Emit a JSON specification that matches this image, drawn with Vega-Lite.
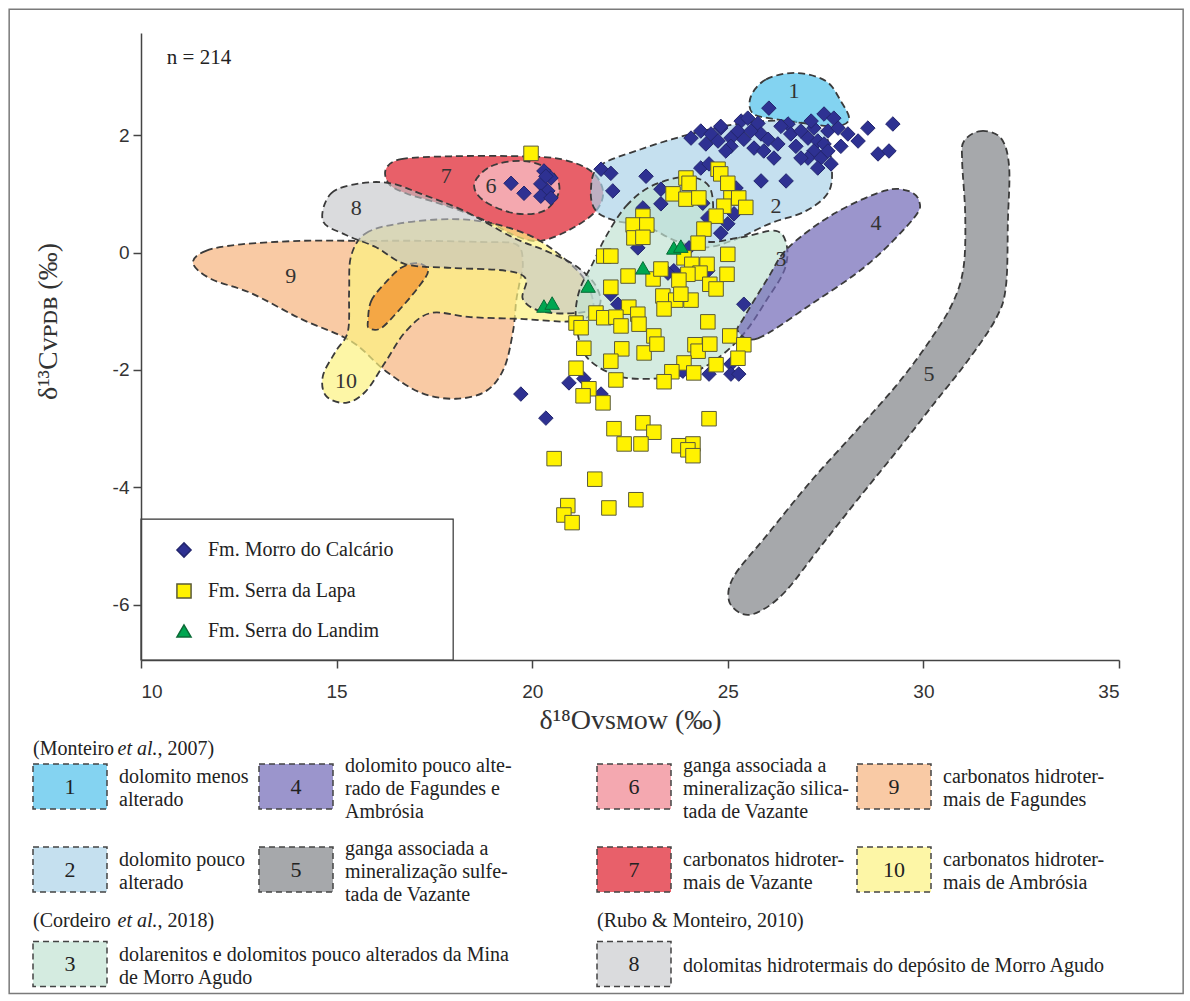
{
"$schema":"https://vega.github.io/schema/vega-lite/v6.json",
"padding":8,
"bounds":"flush",
"spacing":0,
"background":"white",
"config":{"view":{"stroke":null},"font":"Liberation Serif"},
"datasets":{
"fields":[
{"f":"1","i":0,"x":25.59,"y":2.66},{"f":"1","i":1,"x":25.98,"y":2.95},{"f":"1","i":2,"x":26.74,"y":3.06},{"f":"1","i":3,"x":27.51,"y":2.92},{"f":"1","i":4,"x":27.89,"y":2.58},{"f":"1","i":5,"x":28.10,"y":2.27},{"f":"1","i":6,"x":27.77,"y":2.15},{"f":"1","i":7,"x":27.00,"y":2.20},{"f":"1","i":8,"x":26.23,"y":2.27},{"f":"1","i":9,"x":25.64,"y":2.37},
{"f":"2","i":0,"x":21.50,"y":1.05},{"f":"2","i":1,"x":21.71,"y":1.47},{"f":"2","i":2,"x":22.78,"y":1.76},{"f":"2","i":3,"x":24.06,"y":2.02},{"f":"2","i":4,"x":25.34,"y":2.20},{"f":"2","i":5,"x":26.62,"y":2.24},{"f":"2","i":6,"x":27.43,"y":2.06},{"f":"2","i":7,"x":27.64,"y":1.56},{"f":"2","i":8,"x":27.59,"y":1.05},{"f":"2","i":9,"x":27.00,"y":0.71},{"f":"2","i":10,"x":26.10,"y":0.50},{"f":"2","i":11,"x":25.21,"y":0.23},{"f":"2","i":12,"x":24.44,"y":0.09},{"f":"2","i":13,"x":23.67,"y":0.20},{"f":"2","i":14,"x":22.91,"y":0.45},{"f":"2","i":15,"x":22.14,"y":0.54},{"f":"2","i":16,"x":21.63,"y":0.71},
{"f":"3","i":0,"x":21.89,"y":0.28},{"f":"3","i":1,"x":22.40,"y":0.79},{"f":"3","i":2,"x":23.04,"y":1.13},{"f":"3","i":3,"x":23.94,"y":1.29},{"f":"3","i":4,"x":24.52,"y":1.13},{"f":"3","i":5,"x":24.62,"y":0.62},{"f":"3","i":6,"x":24.44,"y":0.20},{"f":"3","i":7,"x":25.34,"y":0.26},{"f":"3","i":8,"x":26.23,"y":0.37},{"f":"3","i":9,"x":26.51,"y":0.11},{"f":"3","i":10,"x":26.44,"y":-0.31},{"f":"3","i":11,"x":25.98,"y":-0.82},{"f":"3","i":12,"x":25.46,"y":-1.34},{"f":"3","i":13,"x":24.82,"y":-1.76},{"f":"3","i":14,"x":24.06,"y":-2.05},{"f":"3","i":15,"x":23.04,"y":-2.15},{"f":"3","i":16,"x":22.14,"y":-2.09},{"f":"3","i":17,"x":21.37,"y":-1.76},{"f":"3","i":18,"x":21.12,"y":-1.17},{"f":"3","i":19,"x":21.20,"y":-0.66},{"f":"3","i":20,"x":21.55,"y":-0.18},
{"f":"4","i":0,"x":25.26,"y":-1.34},{"f":"4","i":1,"x":25.77,"y":-1.46},{"f":"4","i":2,"x":27.13,"y":-0.88},{"f":"4","i":3,"x":28.58,"y":-0.20},{"f":"4","i":4,"x":29.76,"y":0.59},{"f":"4","i":5,"x":29.89,"y":0.88},{"f":"4","i":6,"x":29.61,"y":1.05},{"f":"4","i":7,"x":28.99,"y":1.05},{"f":"4","i":8,"x":27.71,"y":0.66},{"f":"4","i":9,"x":26.54,"y":0.08},{"f":"4","i":10,"x":26.03,"y":-0.43},{"f":"4","i":11,"x":25.41,"y":-1.11},
{"f":"5","i":0,"x":31.04,"y":1.90},{"f":"5","i":1,"x":31.47,"y":2.07},{"f":"5","i":2,"x":31.98,"y":1.95},{"f":"5","i":3,"x":32.19,"y":1.47},{"f":"5","i":4,"x":32.16,"y":0.54},{"f":"5","i":5,"x":32.11,"y":-0.57},{"f":"5","i":6,"x":31.85,"y":-1.13},{"f":"5","i":7,"x":31.09,"y":-1.88},{"f":"5","i":8,"x":30.32,"y":-2.53},{"f":"5","i":9,"x":29.43,"y":-3.29},{"f":"5","i":10,"x":28.40,"y":-4.14},{"f":"5","i":11,"x":27.38,"y":-5.00},{"f":"5","i":12,"x":26.49,"y":-5.76},{"f":"5","i":13,"x":25.85,"y":-6.10},{"f":"5","i":14,"x":25.39,"y":-6.16},{"f":"5","i":15,"x":25.03,"y":-5.93},{"f":"5","i":16,"x":25.16,"y":-5.51},{"f":"5","i":17,"x":25.98,"y":-4.83},{"f":"5","i":18,"x":27.13,"y":-3.89},{"f":"5","i":19,"x":28.28,"y":-3.04},{"f":"5","i":20,"x":29.30,"y":-2.27},{"f":"5","i":21,"x":30.07,"y":-1.59},{"f":"5","i":22,"x":30.71,"y":-0.91},{"f":"5","i":23,"x":31.02,"y":-0.28},{"f":"5","i":24,"x":31.07,"y":0.62},{"f":"5","i":25,"x":30.99,"y":1.56},
{"f":"6","i":0,"x":18.52,"y":1.17},{"f":"6","i":1,"x":18.95,"y":1.47},{"f":"6","i":2,"x":19.79,"y":1.56},{"f":"6","i":3,"x":20.49,"y":1.39},{"f":"6","i":4,"x":20.69,"y":1.05},{"f":"6","i":5,"x":20.30,"y":0.71},{"f":"6","i":6,"x":19.54,"y":0.67},{"f":"6","i":7,"x":18.77,"y":0.88},
{"f":"7","i":0,"x":16.26,"y":1.42},{"f":"7","i":1,"x":16.65,"y":1.59},{"f":"7","i":2,"x":17.92,"y":1.64},{"f":"7","i":3,"x":19.71,"y":1.64},{"f":"7","i":4,"x":20.74,"y":1.59},{"f":"7","i":5,"x":21.50,"y":1.39},{"f":"7","i":6,"x":21.81,"y":1.05},{"f":"7","i":7,"x":21.63,"y":0.71},{"f":"7","i":8,"x":20.99,"y":0.40},{"f":"7","i":9,"x":20.22,"y":0.20},{"f":"7","i":10,"x":19.59,"y":0.28},{"f":"7","i":11,"x":18.95,"y":0.50},{"f":"7","i":12,"x":18.18,"y":0.71},{"f":"7","i":13,"x":17.41,"y":0.88},{"f":"7","i":14,"x":16.77,"y":1.01},{"f":"7","i":15,"x":16.34,"y":1.17},
{"f":"8","i":0,"x":14.65,"y":0.54},{"f":"8","i":1,"x":14.86,"y":1.01},{"f":"8","i":2,"x":15.62,"y":1.18},{"f":"8","i":3,"x":16.39,"y":1.18},{"f":"8","i":4,"x":17.16,"y":1.00},{"f":"8","i":5,"x":18.26,"y":0.71},{"f":"8","i":6,"x":19.53,"y":0.25},{"f":"8","i":7,"x":20.35,"y":0.03},{"f":"8","i":8,"x":21.12,"y":-0.23},{"f":"8","i":9,"x":21.63,"y":-0.57},{"f":"8","i":10,"x":21.71,"y":-0.91},{"f":"8","i":11,"x":21.12,"y":-1.03},{"f":"8","i":12,"x":20.22,"y":-1.00},{"f":"8","i":13,"x":19.76,"y":-0.79},{"f":"8","i":14,"x":19.84,"y":-0.45},{"f":"8","i":15,"x":19.33,"y":-0.31},{"f":"8","i":16,"x":17.92,"y":-0.26},{"f":"8","i":17,"x":16.77,"y":-0.20},{"f":"8","i":18,"x":16.01,"y":0.09},{"f":"8","i":19,"x":15.24,"y":0.30},
{"f":"9","i":0,"x":11.33,"y":-0.18},{"f":"9","i":1,"x":11.66,"y":0.03},{"f":"9","i":2,"x":12.56,"y":0.14},{"f":"9","i":3,"x":14.09,"y":0.20},{"f":"9","i":4,"x":15.62,"y":0.20},{"f":"9","i":5,"x":17.16,"y":0.20},{"f":"9","i":6,"x":18.69,"y":0.18},{"f":"9","i":7,"x":19.59,"y":0.14},{"f":"9","i":8,"x":19.76,"y":-0.18},{"f":"9","i":9,"x":19.66,"y":-0.57},{"f":"9","i":10,"x":19.59,"y":-0.83},{"f":"9","i":11,"x":19.51,"y":-1.34},{"f":"9","i":12,"x":19.28,"y":-1.97},{"f":"9","i":13,"x":18.82,"y":-2.36},{"f":"9","i":14,"x":18.05,"y":-2.49},{"f":"9","i":15,"x":17.16,"y":-2.39},{"f":"9","i":16,"x":16.26,"y":-2.02},{"f":"9","i":17,"x":15.37,"y":-1.51},{"f":"9","i":18,"x":14.09,"y":-1.13},{"f":"9","i":19,"x":12.81,"y":-0.69},{"f":"9","i":20,"x":11.79,"y":-0.45},
{"f":"10","i":0,"x":15.37,"y":-0.06},{"f":"10","i":1,"x":15.75,"y":0.33},{"f":"10","i":2,"x":16.65,"y":0.50},{"f":"10","i":3,"x":17.92,"y":0.57},{"f":"10","i":4,"x":18.95,"y":0.50},{"f":"10","i":5,"x":19.97,"y":0.28},{"f":"10","i":6,"x":20.74,"y":-0.06},{"f":"10","i":7,"x":21.37,"y":-0.49},{"f":"10","i":8,"x":21.55,"y":-1.00},{"f":"10","i":9,"x":20.99,"y":-1.17},{"f":"10","i":10,"x":19.71,"y":-1.13},{"f":"10","i":11,"x":18.43,"y":-1.10},{"f":"10","i":12,"x":17.41,"y":-1.03},{"f":"10","i":13,"x":16.77,"y":-1.34},{"f":"10","i":14,"x":16.26,"y":-1.85},{"f":"10","i":15,"x":15.75,"y":-2.36},{"f":"10","i":16,"x":15.24,"y":-2.56},{"f":"10","i":17,"x":14.73,"y":-2.44},{"f":"10","i":18,"x":14.65,"y":-2.10},{"f":"10","i":19,"x":14.98,"y":-1.68},{"f":"10","i":20,"x":15.29,"y":-1.34},{"f":"10","i":21,"x":15.32,"y":-0.66},
{"f":"9b","i":0,"x":15.80,"y":-1.17},{"f":"9b","i":1,"x":15.88,"y":-0.83},{"f":"9b","i":2,"x":16.21,"y":-0.54},{"f":"9b","i":3,"x":16.65,"y":-0.26},{"f":"9b","i":4,"x":17.08,"y":-0.18},{"f":"9b","i":5,"x":17.34,"y":-0.31},{"f":"9b","i":6,"x":17.08,"y":-0.60},{"f":"9b","i":7,"x":16.57,"y":-1.00},{"f":"9b","i":8,"x":16.13,"y":-1.29},{"f":"9b","i":9,"x":15.83,"y":-1.29}
],
"labels":[
{"t":"1","x":26.69,"y":2.75},{"t":"2","x":26.23,"y":0.79},{"t":"3","x":26.36,"y":-0.11},{"t":"4","x":28.79,"y":0.50},{"t":"5","x":30.14,"y":-2.06},{"t":"6","x":18.95,"y":1.13},{"t":"7","x":17.80,"y":1.30},{"t":"8","x":15.50,"y":0.76},{"t":"9","x":13.83,"y":-0.40},{"t":"10","x":15.24,"y":-2.19},{"t":"n = 214","x":10.66,"y":3.31}
],
"pts":[
{"fm":"Fm. Morro do Calcário","x":26.05,"y":2.46},{"fm":"Fm. Morro do Calcário","x":24.06,"y":1.95},{"fm":"Fm. Morro do Calcário","x":24.31,"y":2.07},{"fm":"Fm. Morro do Calcário","x":24.57,"y":2.02},{"fm":"Fm. Morro do Calcário","x":24.82,"y":2.12},{"fm":"Fm. Morro do Calcário","x":25.08,"y":1.95},{"fm":"Fm. Morro do Calcário","x":25.34,"y":2.24},{"fm":"Fm. Morro do Calcário","x":25.26,"y":2.07},{"fm":"Fm. Morro do Calcário","x":25.51,"y":2.29},{"fm":"Fm. Morro do Calcário","x":25.77,"y":2.20},{"fm":"Fm. Morro do Calcário","x":25.85,"y":2.02},{"fm":"Fm. Morro do Calcário","x":24.75,"y":1.90},{"fm":"Fm. Morro do Calcário","x":25.08,"y":1.81},{"fm":"Fm. Morro do Calcário","x":25.41,"y":1.93},{"fm":"Fm. Morro do Calcário","x":26.03,"y":1.93},{"fm":"Fm. Morro do Calcário","x":26.28,"y":1.85},{"fm":"Fm. Morro do Calcário","x":25.67,"y":1.78},{"fm":"Fm. Morro do Calcário","x":25.92,"y":1.73},{"fm":"Fm. Morro do Calcário","x":26.18,"y":1.61},{"fm":"Fm. Morro do Calcário","x":26.54,"y":2.19},{"fm":"Fm. Morro do Calcário","x":26.61,"y":2.02},{"fm":"Fm. Morro do Calcário","x":26.87,"y":2.07},{"fm":"Fm. Morro do Calcário","x":27.05,"y":1.95},{"fm":"Fm. Morro do Calcário","x":27.20,"y":2.12},{"fm":"Fm. Morro do Calcário","x":27.46,"y":2.36},{"fm":"Fm. Morro do Calcário","x":27.71,"y":2.29},{"fm":"Fm. Morro do Calcário","x":27.56,"y":2.07},{"fm":"Fm. Morro do Calcário","x":27.82,"y":2.12},{"fm":"Fm. Morro do Calcário","x":27.30,"y":1.90},{"fm":"Fm. Morro do Calcário","x":27.46,"y":1.85},{"fm":"Fm. Morro do Calcário","x":27.20,"y":1.73},{"fm":"Fm. Morro do Calcário","x":27.05,"y":1.61},{"fm":"Fm. Morro do Calcário","x":27.38,"y":1.61},{"fm":"Fm. Morro do Calcário","x":27.56,"y":1.73},{"fm":"Fm. Morro do Calcário","x":27.30,"y":1.44},{"fm":"Fm. Morro do Calcário","x":28.07,"y":2.02},{"fm":"Fm. Morro do Calcário","x":28.33,"y":1.90},{"fm":"Fm. Morro do Calcário","x":28.58,"y":2.12},{"fm":"Fm. Morro do Calcário","x":28.84,"y":1.68},{"fm":"Fm. Morro do Calcário","x":29.22,"y":2.19},{"fm":"Fm. Morro do Calcário","x":29.12,"y":1.73},{"fm":"Fm. Morro do Calcário","x":26.87,"y":1.61},{"fm":"Fm. Morro do Calcário","x":24.82,"y":2.15},{"fm":"Fm. Morro do Calcário","x":24.44,"y":1.85},{"fm":"Fm. Morro do Calcário","x":25.59,"y":2.07},{"fm":"Fm. Morro do Calcário","x":26.74,"y":1.81},{"fm":"Fm. Morro do Calcário","x":27.13,"y":2.24},{"fm":"Fm. Morro do Calcário","x":27.89,"y":1.81},{"fm":"Fm. Morro do Calcário","x":27.64,"y":1.51},{"fm":"Fm. Morro do Calcário","x":26.36,"y":2.15},{"fm":"Fm. Morro do Calcário","x":24.95,"y":1.73},
{"fm":"Fm. Morro do Calcário","x":21.76,"y":1.42},{"fm":"Fm. Morro do Calcário","x":22.01,"y":1.35},{"fm":"Fm. Morro do Calcário","x":22.06,"y":1.05},{"fm":"Fm. Morro do Calcário","x":22.91,"y":1.30},{"fm":"Fm. Morro do Calcário","x":24.31,"y":1.44},{"fm":"Fm. Morro do Calcário","x":24.52,"y":1.51},{"fm":"Fm. Morro do Calcário","x":25.85,"y":1.22},{"fm":"Fm. Morro do Calcário","x":26.49,"y":1.22},{"fm":"Fm. Morro do Calcário","x":23.29,"y":1.08},{"fm":"Fm. Morro do Calcário","x":23.29,"y":0.83},{"fm":"Fm. Morro do Calcário","x":22.83,"y":0.76},{"fm":"Fm. Morro do Calcário","x":24.36,"y":0.84},{"fm":"Fm. Morro do Calcário","x":25.21,"y":1.10},{"fm":"Fm. Morro do Calcário","x":25.16,"y":0.66},{"fm":"Fm. Morro do Calcário","x":25.00,"y":0.49},{"fm":"Fm. Morro do Calcário","x":24.82,"y":0.33},{"fm":"Fm. Morro do Calcário","x":24.49,"y":0.59},{"fm":"Fm. Morro do Calcário","x":22.70,"y":0.08},{"fm":"Fm. Morro do Calcário","x":24.01,"y":0.08},{"fm":"Fm. Morro do Calcário","x":23.62,"y":-0.31},{"fm":"Fm. Morro do Calcário","x":23.47,"y":-0.35},{"fm":"Fm. Morro do Calcário","x":24.49,"y":-0.31},{"fm":"Fm. Morro do Calcário","x":22.01,"y":-0.71},{"fm":"Fm. Morro do Calcário","x":22.19,"y":-0.88},{"fm":"Fm. Morro do Calcário","x":25.41,"y":-0.88},
{"fm":"Fm. Morro do Calcário","x":20.94,"y":-2.22},{"fm":"Fm. Morro do Calcário","x":21.32,"y":-2.15},{"fm":"Fm. Morro do Calcário","x":21.76,"y":-2.41},{"fm":"Fm. Morro do Calcário","x":19.71,"y":-2.41},{"fm":"Fm. Morro do Calcário","x":20.35,"y":-2.82},{"fm":"Fm. Morro do Calcário","x":23.85,"y":-2.02},{"fm":"Fm. Morro do Calcário","x":24.52,"y":-2.07},{"fm":"Fm. Morro do Calcário","x":25.08,"y":-1.90},{"fm":"Fm. Morro do Calcário","x":25.08,"y":-2.07},{"fm":"Fm. Morro do Calcário","x":25.28,"y":-2.07},
{"fm":"Fm. Morro do Calcário","x":19.46,"y":1.18},{"fm":"Fm. Morro do Calcário","x":19.79,"y":1.01},{"fm":"Fm. Morro do Calcário","x":20.22,"y":1.17},{"fm":"Fm. Morro do Calcário","x":20.30,"y":1.39},{"fm":"Fm. Morro do Calcário","x":20.48,"y":1.27},{"fm":"Fm. Morro do Calcário","x":20.40,"y":1.05},{"fm":"Fm. Morro do Calcário","x":20.22,"y":0.96},{"fm":"Fm. Morro do Calcário","x":20.48,"y":0.93},{"fm":"Fm. Morro do Calcário","x":20.35,"y":1.30},
{"fm":"Fm. Serra da Lapa","x":19.97,"y":1.69},{"fm":"Fm. Serra da Lapa","x":23.93,"y":1.27},{"fm":"Fm. Serra da Lapa","x":24.01,"y":1.18},{"fm":"Fm. Serra da Lapa","x":24.75,"y":1.42},{"fm":"Fm. Serra da Lapa","x":24.82,"y":1.34},{"fm":"Fm. Serra da Lapa","x":25.00,"y":1.18},{"fm":"Fm. Serra da Lapa","x":23.60,"y":1.00},{"fm":"Fm. Serra da Lapa","x":23.93,"y":0.91},{"fm":"Fm. Serra da Lapa","x":24.26,"y":0.93},{"fm":"Fm. Serra da Lapa","x":25.08,"y":0.93},{"fm":"Fm. Serra da Lapa","x":25.28,"y":0.93},{"fm":"Fm. Serra da Lapa","x":25.46,"y":0.77},{"fm":"Fm. Serra da Lapa","x":24.90,"y":0.79},{"fm":"Fm. Serra da Lapa","x":24.70,"y":0.62},{"fm":"Fm. Serra da Lapa","x":24.39,"y":0.40},{"fm":"Fm. Serra da Lapa","x":24.24,"y":0.16},{"fm":"Fm. Serra da Lapa","x":22.83,"y":0.62},{"fm":"Fm. Serra da Lapa","x":22.58,"y":0.47},{"fm":"Fm. Serra da Lapa","x":22.93,"y":0.47},{"fm":"Fm. Serra da Lapa","x":22.60,"y":0.25},{"fm":"Fm. Serra da Lapa","x":22.83,"y":0.26},{"fm":"Fm. Serra da Lapa","x":21.83,"y":-0.06},{"fm":"Fm. Serra da Lapa","x":22.01,"y":-0.06},{"fm":"Fm. Serra da Lapa","x":25.00,"y":-0.03},{"fm":"Fm. Serra da Lapa","x":22.45,"y":-0.40},{"fm":"Fm. Serra da Lapa","x":23.09,"y":-0.45},{"fm":"Fm. Serra da Lapa","x":23.29,"y":-0.28},{"fm":"Fm. Serra da Lapa","x":23.88,"y":-0.09},{"fm":"Fm. Serra da Lapa","x":24.08,"y":-0.20},{"fm":"Fm. Serra da Lapa","x":24.47,"y":-0.20},{"fm":"Fm. Serra da Lapa","x":24.29,"y":-0.35},{"fm":"Fm. Serra da Lapa","x":23.98,"y":-0.37},{"fm":"Fm. Serra da Lapa","x":23.75,"y":-0.47},{"fm":"Fm. Serra da Lapa","x":24.98,"y":-0.37},{"fm":"Fm. Serra da Lapa","x":24.54,"y":-0.54},{"fm":"Fm. Serra da Lapa","x":24.70,"y":-0.62},{"fm":"Fm. Serra da Lapa","x":22.01,"y":-0.59},{"fm":"Fm. Serra da Lapa","x":23.34,"y":-0.74},{"fm":"Fm. Serra da Lapa","x":23.67,"y":-0.81},{"fm":"Fm. Serra da Lapa","x":24.06,"y":-0.81},{"fm":"Fm. Serra da Lapa","x":23.37,"y":-0.96},{"fm":"Fm. Serra da Lapa","x":23.80,"y":-0.71},{"fm":"Fm. Serra da Lapa","x":22.47,"y":-0.93},{"fm":"Fm. Serra da Lapa","x":22.70,"y":-1.05},{"fm":"Fm. Serra da Lapa","x":21.63,"y":-1.03},{"fm":"Fm. Serra da Lapa","x":21.83,"y":-1.11},{"fm":"Fm. Serra da Lapa","x":22.14,"y":-1.10},{"fm":"Fm. Serra da Lapa","x":22.27,"y":-1.25},{"fm":"Fm. Serra da Lapa","x":22.73,"y":-1.22},{"fm":"Fm. Serra da Lapa","x":21.12,"y":-1.20},{"fm":"Fm. Serra da Lapa","x":21.25,"y":-1.28},{"fm":"Fm. Serra da Lapa","x":24.49,"y":-1.18},{"fm":"Fm. Serra da Lapa","x":21.32,"y":-1.63},{"fm":"Fm. Serra da Lapa","x":22.29,"y":-1.64},{"fm":"Fm. Serra da Lapa","x":22.86,"y":-1.71},{"fm":"Fm. Serra da Lapa","x":22.01,"y":-1.85},{"fm":"Fm. Serra da Lapa","x":23.11,"y":-1.42},{"fm":"Fm. Serra da Lapa","x":23.19,"y":-1.56},{"fm":"Fm. Serra da Lapa","x":24.16,"y":-1.57},{"fm":"Fm. Serra da Lapa","x":24.24,"y":-1.68},{"fm":"Fm. Serra da Lapa","x":24.54,"y":-1.56},{"fm":"Fm. Serra da Lapa","x":25.05,"y":-1.42},{"fm":"Fm. Serra da Lapa","x":25.41,"y":-1.57},{"fm":"Fm. Serra da Lapa","x":23.88,"y":-1.88},{"fm":"Fm. Serra da Lapa","x":24.70,"y":-1.91},{"fm":"Fm. Serra da Lapa","x":25.26,"y":-1.80},{"fm":"Fm. Serra da Lapa","x":24.13,"y":-2.05},{"fm":"Fm. Serra da Lapa","x":23.57,"y":-2.03},{"fm":"Fm. Serra da Lapa","x":23.37,"y":-2.20},{"fm":"Fm. Serra da Lapa","x":22.14,"y":-2.17},{"fm":"Fm. Serra da Lapa","x":21.12,"y":-1.97},{"fm":"Fm. Serra da Lapa","x":21.45,"y":-2.32},{"fm":"Fm. Serra da Lapa","x":21.30,"y":-2.44},{"fm":"Fm. Serra da Lapa","x":21.81,"y":-2.56},{"fm":"Fm. Serra da Lapa","x":24.52,"y":-2.83},{"fm":"Fm. Serra da Lapa","x":22.09,"y":-3.00},{"fm":"Fm. Serra da Lapa","x":22.83,"y":-2.90},{"fm":"Fm. Serra da Lapa","x":23.11,"y":-3.06},{"fm":"Fm. Serra da Lapa","x":22.35,"y":-3.26},{"fm":"Fm. Serra da Lapa","x":22.78,"y":-3.26},{"fm":"Fm. Serra da Lapa","x":23.75,"y":-3.29},{"fm":"Fm. Serra da Lapa","x":24.11,"y":-3.26},{"fm":"Fm. Serra da Lapa","x":23.98,"y":-3.36},{"fm":"Fm. Serra da Lapa","x":24.11,"y":-3.46},{"fm":"Fm. Serra da Lapa","x":20.56,"y":-3.51},{"fm":"Fm. Serra da Lapa","x":21.60,"y":-3.86},{"fm":"Fm. Serra da Lapa","x":20.91,"y":-4.31},{"fm":"Fm. Serra da Lapa","x":20.81,"y":-4.47},{"fm":"Fm. Serra da Lapa","x":21.02,"y":-4.60},{"fm":"Fm. Serra da Lapa","x":21.96,"y":-4.35},{"fm":"Fm. Serra da Lapa","x":22.65,"y":-4.21},
{"fm":"Fm. Serra do Landim","x":20.30,"y":-0.91},{"fm":"Fm. Serra do Landim","x":20.51,"y":-0.86},{"fm":"Fm. Serra do Landim","x":21.43,"y":-0.57},{"fm":"Fm. Serra do Landim","x":22.83,"y":-0.26},{"fm":"Fm. Serra do Landim","x":23.62,"y":0.08},{"fm":"Fm. Serra do Landim","x":23.80,"y":0.11}
],
"boxes":[
{"id":"1","c":0,"r":1,"t":["dolomito menos","alterado"]},
{"id":"4","c":1,"r":1,"t":["dolomito pouco alte-","rado de Fagundes e","Ambrósia"]},
{"id":"6","c":2,"r":1,"t":["ganga associada a","mineralização silica-","tada de Vazante"]},
{"id":"9","c":3,"r":1,"t":["carbonatos hidroter-","mais de Fagundes"]},
{"id":"2","c":0,"r":2,"t":["dolomito pouco","alterado"]},
{"id":"5","c":1,"r":2,"t":["ganga associada a","mineralização sulfe-","tada de Vazante"]},
{"id":"7","c":2,"r":2,"t":["carbonatos hidroter-","mais de Vazante"]},
{"id":"10","c":3,"r":2,"t":["carbonatos hidroter-","mais de Ambrósia"]},
{"id":"3","c":0,"r":4,"t":["dolarenitos e dolomitos pouco alterados da Mina","de Morro Agudo"]},
{"id":"8","c":2,"r":4,"t":["dolomitas hidrotermais do depósito de Morro Agudo"]}
],
"heads":[
{"c":0,"r":0,"p":"a","t":"(Monteiro"},{"c":0,"r":0,"p":"b","t":"et al."},{"c":0,"r":0,"p":"c","t":", 2007)"},
{"c":0,"r":3,"p":"a","t":"(Cordeiro"},{"c":0,"r":3,"p":"b","t":"et al."},{"c":0,"r":3,"p":"c","t":", 2018)"},
{"c":2,"r":3,"p":"a","t":"(Rubo & Monteiro, 2010)"}
]
},
"vconcat":[
{
"width":978,"height":627,
"layer":[
{"data":{"values":[{}]},"mark":{"type":"rect","fill":"transparent","stroke":"#7a7a7a","strokeWidth":1.5},
 "encoding":{"x":{"datum":6.63,"type":"quantitative","scale":{"domain":[10,35],"nice":false,"zero":false}},"x2":{"datum":36.64},
 "y":{"datum":4.145,"type":"quantitative","scale":{"domain":[-6.94,3.74],"nice":false,"zero":false}},"y2":{"datum":-12.62}}},
{"data":{"name":"fields"},"transform":[{"filter":"datum.f=='9'"}],"mark":{"type":"line","interpolate":"cardinal-closed","fill":"#f6b37e","fillOpacity":0.7,"stroke":"#3a3a3a","strokeWidth":1.8,"strokeDash":[7,4]},
 "encoding":{"x":{"field":"x","type":"quantitative","scale":{"domain":[10,35],"nice":false,"zero":false}},"y":{"field":"y","type":"quantitative","scale":{"domain":[-6.94,3.74],"nice":false,"zero":false}},"order":{"field":"i","type":"quantitative"}}},
{"data":{"name":"fields"},"transform":[{"filter":"datum.f=='7'"}],"mark":{"type":"line","interpolate":"cardinal-closed","fill":"#de1c2a","fillOpacity":0.7,"stroke":"#3a3a3a","strokeWidth":1.8,"strokeDash":[7,4]},
 "encoding":{"x":{"field":"x","type":"quantitative","scale":{"domain":[10,35],"nice":false,"zero":false}},"y":{"field":"y","type":"quantitative","scale":{"domain":[-6.94,3.74],"nice":false,"zero":false}},"order":{"field":"i","type":"quantitative"}}},
{"data":{"name":"fields"},"transform":[{"filter":"datum.f=='10'"}],"mark":{"type":"line","interpolate":"cardinal-closed","fill":"#fcf280","fillOpacity":0.7,"stroke":"#3a3a3a","strokeWidth":1.8,"strokeDash":[7,4]},
 "encoding":{"x":{"field":"x","type":"quantitative","scale":{"domain":[10,35],"nice":false,"zero":false}},"y":{"field":"y","type":"quantitative","scale":{"domain":[-6.94,3.74],"nice":false,"zero":false}},"order":{"field":"i","type":"quantitative"}}},
{"data":{"name":"fields"},"transform":[{"filter":"datum.f=='9b'"}],"mark":{"type":"line","interpolate":"cardinal-closed","fill":"#f29b38","fillOpacity":0.85,"stroke":"#3a3a3a","strokeWidth":1.8,"strokeDash":[7,4]},
 "encoding":{"x":{"field":"x","type":"quantitative","scale":{"domain":[10,35],"nice":false,"zero":false}},"y":{"field":"y","type":"quantitative","scale":{"domain":[-6.94,3.74],"nice":false,"zero":false}},"order":{"field":"i","type":"quantitative"}}},
{"data":{"name":"fields"},"transform":[{"filter":"datum.f=='8'"}],"mark":{"type":"line","interpolate":"cardinal-closed","fill":"#c1c3c6","fillOpacity":0.6,"stroke":"#3a3a3a","strokeWidth":1.8,"strokeDash":[7,4]},
 "encoding":{"x":{"field":"x","type":"quantitative","scale":{"domain":[10,35],"nice":false,"zero":false}},"y":{"field":"y","type":"quantitative","scale":{"domain":[-6.94,3.74],"nice":false,"zero":false}},"order":{"field":"i","type":"quantitative"}}},
{"data":{"name":"fields"},"transform":[{"filter":"datum.f=='2'"}],"mark":{"type":"line","interpolate":"cardinal-closed","fill":"#acd3e8","fillOpacity":0.7,"stroke":"#3a3a3a","strokeWidth":1.8,"strokeDash":[7,4]},
 "encoding":{"x":{"field":"x","type":"quantitative","scale":{"domain":[10,35],"nice":false,"zero":false}},"y":{"field":"y","type":"quantitative","scale":{"domain":[-6.94,3.74],"nice":false,"zero":false}},"order":{"field":"i","type":"quantitative"}}},
{"data":{"name":"fields"},"transform":[{"filter":"datum.f=='3'"}],"mark":{"type":"line","interpolate":"cardinal-closed","fill":"#c2e2d3","fillOpacity":0.7,"stroke":"#3a3a3a","strokeWidth":1.8,"strokeDash":[7,4]},
 "encoding":{"x":{"field":"x","type":"quantitative","scale":{"domain":[10,35],"nice":false,"zero":false}},"y":{"field":"y","type":"quantitative","scale":{"domain":[-6.94,3.74],"nice":false,"zero":false}},"order":{"field":"i","type":"quantitative"}}},
{"data":{"name":"fields"},"transform":[{"filter":"datum.f=='4'"}],"mark":{"type":"line","interpolate":"cardinal-closed","fill":"#7068b6","fillOpacity":0.7,"stroke":"#3a3a3a","strokeWidth":1.8,"strokeDash":[7,4]},
 "encoding":{"x":{"field":"x","type":"quantitative","scale":{"domain":[10,35],"nice":false,"zero":false}},"y":{"field":"y","type":"quantitative","scale":{"domain":[-6.94,3.74],"nice":false,"zero":false}},"order":{"field":"i","type":"quantitative"}}},
{"data":{"name":"fields"},"transform":[{"filter":"datum.f=='5'"}],"mark":{"type":"line","interpolate":"cardinal-closed","fill":"#808387","fillOpacity":0.7,"stroke":"#3a3a3a","strokeWidth":1.8,"strokeDash":[7,4]},
 "encoding":{"x":{"field":"x","type":"quantitative","scale":{"domain":[10,35],"nice":false,"zero":false}},"y":{"field":"y","type":"quantitative","scale":{"domain":[-6.94,3.74],"nice":false,"zero":false}},"order":{"field":"i","type":"quantitative"}}},
{"data":{"name":"fields"},"transform":[{"filter":"datum.f=='1'"}],"mark":{"type":"line","interpolate":"cardinal-closed","fill":"#4fc0eb","fillOpacity":0.7,"stroke":"#3a3a3a","strokeWidth":1.8,"strokeDash":[7,4]},
 "encoding":{"x":{"field":"x","type":"quantitative","scale":{"domain":[10,35],"nice":false,"zero":false}},"y":{"field":"y","type":"quantitative","scale":{"domain":[-6.94,3.74],"nice":false,"zero":false}},"order":{"field":"i","type":"quantitative"}}},
{"data":{"name":"fields"},"transform":[{"filter":"datum.f=='6'"}],"mark":{"type":"line","interpolate":"cardinal-closed","fill":"#f6b5bc","fillOpacity":0.85,"stroke":"#3a3a3a","strokeWidth":1.8,"strokeDash":[7,4]},
 "encoding":{"x":{"field":"x","type":"quantitative","scale":{"domain":[10,35],"nice":false,"zero":false}},"y":{"field":"y","type":"quantitative","scale":{"domain":[-6.94,3.74],"nice":false,"zero":false}},"order":{"field":"i","type":"quantitative"}}},
{"data":{"name":"labels"},"mark":{"type":"text","font":"Liberation Serif","fontSize":22,"color":"#333","align":"center","baseline":"middle"},
 "transform":[{"filter":"datum.t!='n = 214'"}],
 "encoding":{"x":{"field":"x","type":"quantitative","scale":{"domain":[10,35],"nice":false,"zero":false}},"y":{"field":"y","type":"quantitative","scale":{"domain":[-6.94,3.74],"nice":false,"zero":false}},"text":{"field":"t"}}},
{"data":{"name":"labels"},"mark":{"type":"text","font":"Liberation Serif","fontSize":21,"color":"#222","align":"left","baseline":"middle"},
 "transform":[{"filter":"datum.t=='n = 214'"}],
 "encoding":{"x":{"field":"x","type":"quantitative","scale":{"domain":[10,35],"nice":false,"zero":false}},"y":{"field":"y","type":"quantitative","scale":{"domain":[-6.94,3.74],"nice":false,"zero":false}},"text":{"field":"t"}}},
{"data":{"values":[{}]},"mark":{"type":"rect","fill":"white","stroke":"#333","strokeWidth":1.2},
 "encoding":{"x":{"datum":10,"type":"quantitative","scale":{"domain":[10,35],"nice":false,"zero":false}},"x2":{"datum":17.98},
 "y":{"datum":-6.94,"type":"quantitative","scale":{"domain":[-6.94,3.74],"nice":false,"zero":false}},"y2":{"datum":-4.54}}},
{"data":{"name":"pts"},"mark":{"type":"point","filled":true,"size":210,"strokeWidth":1,"opacity":1},
 "encoding":{
  "x":{"field":"x","type":"quantitative","scale":{"domain":[10,35],"nice":false,"zero":false},
   "axis":{"zindex":1,"values":[10,15,20,25,30,35],"title":"δ¹⁸Oᴠsᴍᴏᴡ (‰)","grid":false,"tickSize":8,"tickWidth":1.5,"tickColor":"#444","domainColor":"#444","domainWidth":1.5,"labelFont":"Liberation Sans","labelFontSize":19,"labelColor":"#333","labelPadding":14,"titleFont":"Liberation Serif","titleFontSize":28,"titleFontWeight":"normal","titleColor":"#333","titleBaseline":"middle","titleY":60}},
  "y":{"field":"y","type":"quantitative","scale":{"domain":[-6.94,3.74],"nice":false,"zero":false},
   "axis":{"zindex":1,"values":[-6,-4,-2,0,2],"labelExpr":"''+datum.value","title":"δ¹³Cᴠᴘᴅʙ (‰)","grid":false,"tickSize":8,"tickWidth":1.5,"tickColor":"#444","domainColor":"#444","domainWidth":1.5,"labelFont":"Liberation Sans","labelFontSize":19,"labelColor":"#333","labelPadding":4,"titleFont":"Liberation Serif","titleFontSize":28,"titleFontWeight":"normal","titleColor":"#333","titleBaseline":"middle","titleAngle":270,"titleX":-93,"titleY":288}},
  "shape":{"field":"fm","type":"nominal","scale":{"domain":["Fm. Morro do Calcário","Fm. Serra da Lapa","Fm. Serra do Landim"],"range":["diamond","square","triangle-up"]},
   "legend":{"title":null,"orient":"none","legendX":33,"legendY":507,"labelFont":"Liberation Serif","labelFontSize":20,"labelColor":"#222","labelLimit":400,"symbolSize":200,"rowPadding":19,"labelOffset":14,"padding":0}},
  "color":{"field":"fm","type":"nominal","scale":{"domain":["Fm. Morro do Calcário","Fm. Serra da Lapa","Fm. Serra do Landim"],"range":["#2e3192","#fff200","#00a651"]},
   "legend":{"title":null,"orient":"none","legendX":33,"legendY":507,"labelFont":"Liberation Serif","labelFontSize":20,"labelColor":"#222","labelLimit":400,"symbolSize":200,"rowPadding":19,"labelOffset":14,"padding":0}},
  "stroke":{"field":"fm","type":"nominal","scale":{"domain":["Fm. Morro do Calcário","Fm. Serra da Lapa","Fm. Serra do Landim"],"range":["#23266e","#5a5a3a","#0b6b37"]},
   "legend":{"title":null,"orient":"none","legendX":33,"legendY":507,"labelFont":"Liberation Serif","labelFontSize":20,"labelColor":"#222","labelLimit":400,"symbolSize":200,"rowPadding":19,"labelOffset":14,"padding":0}}
 }}
]
},
{
"width":978,"height":300,
"layer":[
{"data":{"name":"boxes"},"mark":{"type":"rect","x2Offset":74,"yOffset":-22.5,"y2Offset":22.5,"stroke":"#444","strokeWidth":1.5,"strokeDash":[6,4]},
 "encoding":{"x":{"field":"c","type":"quantitative","scale":{"domain":[0,1,2,3],"range":[-108,118,456,716],"nice":false,"zero":false},"axis":null},"x2":{"field":"c"},
  "y":{"field":"r","type":"quantitative","scale":{"domain":[0,1,2,3,4],"range":[89,126.5,209.5,261,304],"nice":false,"zero":false},"axis":null},"y2":{"field":"r"},
  "fill":{"field":"id","type":"nominal","scale":{"domain":["1","2","3","4","5","6","7","8","9","10"],"range":["#84d3f1","#c5e0ef","#d4ebe0","#9b95cc","#a6a8ab","#f4a8b0","#e8606a","#dadbdd","#f9caa5","#fdf6a6"]},"legend":null}}},
{"data":{"name":"boxes"},"mark":{"type":"text","xOffset":37,"align":"center","baseline":"middle","font":"Liberation Serif","fontSize":22,"color":"#222"},
 "encoding":{"x":{"field":"c","type":"quantitative","scale":{"domain":[0,1,2,3],"range":[-108,118,456,716],"nice":false,"zero":false},"axis":null},
  "y":{"field":"r","type":"quantitative","scale":{"domain":[0,1,2,3,4],"range":[89,126.5,209.5,261,304],"nice":false,"zero":false},"axis":null},"text":{"field":"id"}}},
{"data":{"name":"boxes"},"mark":{"type":"text","xOffset":86,"dy":{"expr":"2-(length(datum.t)-1)*11.5"},"align":"left","baseline":"middle","font":"Liberation Serif","fontSize":20,"lineHeight":23,"color":"#222"},
 "encoding":{"x":{"field":"c","type":"quantitative","scale":{"domain":[0,1,2,3],"range":[-108,118,456,716],"nice":false,"zero":false},"axis":null},
  "y":{"field":"r","type":"quantitative","scale":{"domain":[0,1,2,3,4],"range":[89,126.5,209.5,261,304],"nice":false,"zero":false},"axis":null},"text":{"field":"t"}}},
{"data":{"name":"heads"},"transform":[{"filter":"datum.p=='a'"}],"mark":{"type":"text","align":"left","baseline":"middle","font":"Liberation Serif","fontSize":20,"color":"#222"},
 "encoding":{"x":{"field":"c","type":"quantitative","scale":{"domain":[0,1,2,3],"range":[-108,118,456,716],"nice":false,"zero":false},"axis":null},
  "y":{"field":"r","type":"quantitative","scale":{"domain":[0,1,2,3,4],"range":[89,126.5,209.5,261,304],"nice":false,"zero":false},"axis":null},"text":{"field":"t"}}},
{"data":{"name":"heads"},"transform":[{"filter":"datum.p=='b'"}],"mark":{"type":"text","xOffset":84.5,"align":"left","baseline":"middle","font":"Liberation Serif","fontStyle":"italic","fontSize":20,"color":"#222"},
 "encoding":{"x":{"field":"c","type":"quantitative","scale":{"domain":[0,1,2,3],"range":[-108,118,456,716],"nice":false,"zero":false},"axis":null},
  "y":{"field":"r","type":"quantitative","scale":{"domain":[0,1,2,3,4],"range":[89,126.5,209.5,261,304],"nice":false,"zero":false},"axis":null},"text":{"field":"t"}}},
{"data":{"name":"heads"},"transform":[{"filter":"datum.p=='c'"}],"mark":{"type":"text","xOffset":124.5,"align":"left","baseline":"middle","font":"Liberation Serif","fontSize":20,"color":"#222"},
 "encoding":{"x":{"field":"c","type":"quantitative","scale":{"domain":[0,1,2,3],"range":[-108,118,456,716],"nice":false,"zero":false},"axis":null},
  "y":{"field":"r","type":"quantitative","scale":{"domain":[0,1,2,3,4],"range":[89,126.5,209.5,261,304],"nice":false,"zero":false},"axis":null},"text":{"field":"t"}}}
]
}
]
}
